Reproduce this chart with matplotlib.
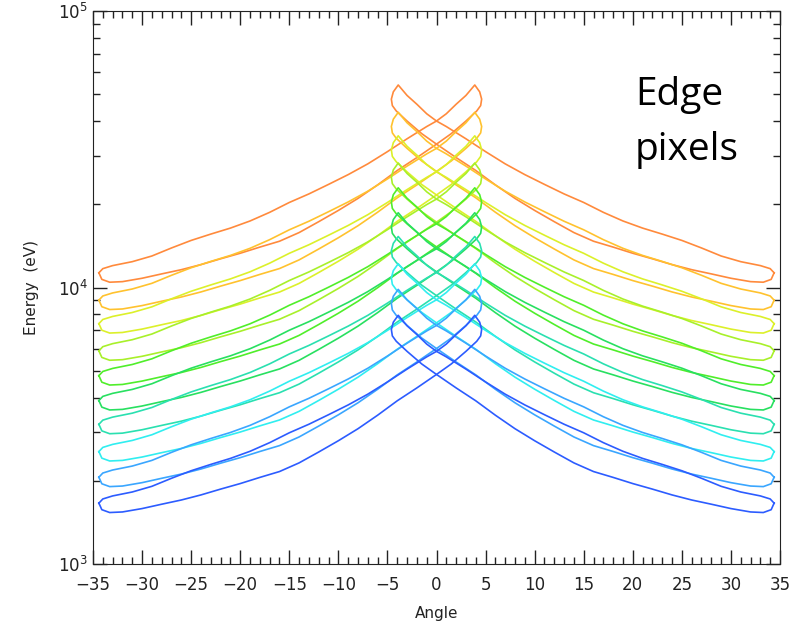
import numpy as np
import matplotlib
matplotlib.use("Agg")
import matplotlib.pyplot as plt
from matplotlib.ticker import MultipleLocator, LogLocator, NullFormatter

# Shape of the top (orange) left-hand loop.
# Upper edge: from the left tip up to the cap near +4 deg.
upper_angle = [-34.4, -34.0, -33.0, -31.0, -29.0, -27.0, -25.0, -23.0, -21.0, -19.0,
               -17.0, -15.0, -13.0, -11.0, -9.0, -7.0, -5.0, -3.0, -1.0, 0.0,
               1.0, 2.0, 3.0, 3.9]
upper_E = [1.13e4, 1.17e4, 1.20e4, 1.24e4, 1.30e4, 1.39e4, 1.48e4, 1.56e4, 1.64e4, 1.74e4,
           1.87e4, 2.03e4, 2.18e4, 2.36e4, 2.56e4, 2.80e4, 3.1e4, 3.45e4, 3.82e4, 4.0e4,
           4.25e4, 4.6e4, 4.95e4, 5.4e4]
# Cap on the far side of the centre
cap_angle = [4.4, 4.6, 4.5, 4.1]
cap_E = [5.1e4, 4.8e4, 4.55e4, 4.35e4]
# Lower edge: from the cap back down to the left tip
lower_angle = [3.0, 1.5, 0.0, -2.0, -4.0, -6.0, -8.0, -10.0, -12.0, -14.0, -16.0,
               -18.0, -20.0, -22.0, -24.0, -26.0, -28.0, -30.0, -32.0, -33.3,
               -34.1, -34.4]
lower_E = [4.0e4, 3.6e4, 3.3e4, 2.95e4, 2.65e4, 2.35e4, 2.1e4, 1.9e4, 1.73e4, 1.58e4,
           1.47e4, 1.40e4, 1.33e4, 1.27e4, 1.21e4, 1.16e4, 1.12e4, 1.08e4, 1.05e4,
           1.045e4, 1.07e4, 1.13e4]

# Left-tip energy of each loop, top to bottom
tip_E = [1.13e4, 9.0e3, 7.4e3, 5.9e3, 4.8e3, 3.9e3, 3.2e3, 2.55e3, 2.06e3, 1.66e3]
colors = ["#ff8a3c", "#ffc22e", "#dcf02a", "#a8f02a", "#50ee2a", "#28e060",
          "#2ae0b0", "#30eef0", "#3aa6ff", "#2c5cff"]

fig = plt.figure(figsize=(8.06, 6.24), dpi=100)
ax = fig.add_axes([93/806, 1-564/624, (780-93)/806, (564-11)/624])

sa = np.array(upper_angle + cap_angle + lower_angle)
sE = np.array(upper_E + cap_E + lower_E)
for t, c in zip(tip_E, colors):
    f = t / tip_E[0]
    ax.plot(sa, sE * f, color=c, lw=1.2)
    ax.plot(-sa, sE * f, color=c, lw=1.2)

ax.set_yscale("log")
ax.set_xlim(-35, 35)
ax.set_ylim(1e3, 1e5)
ax.xaxis.set_major_locator(MultipleLocator(5))
ax.xaxis.set_minor_locator(MultipleLocator(1))
ax.yaxis.set_major_locator(LogLocator(base=10))
ax.yaxis.set_minor_locator(LogLocator(base=10, subs=np.arange(2, 10)))
ax.yaxis.set_minor_formatter(NullFormatter())
ax.tick_params(which="both", direction="in", top=True, right=True, color="#222222",
               labelsize=12, width=1, labelcolor="#222222")
ax.tick_params(which="major", length=10)
ax.tick_params(which="minor", length=5)
ax.tick_params(axis="x", pad=9)
for s in ax.spines.values():
    s.set_color("#222222")
ax.set_xlabel("Angle", fontsize=11, labelpad=8, color="#222222")
ax.set_ylabel("Energy  (eV)", fontsize=11, labelpad=14, color="#222222")

fig.text(635/806, 1-105/624, "Edge", fontsize=28, family="Open Sans", va="baseline")
fig.text(635/806, 1-160/624, "pixels", fontsize=28, family="Open Sans", va="baseline")

fig.savefig("out.png", dpi=100)
